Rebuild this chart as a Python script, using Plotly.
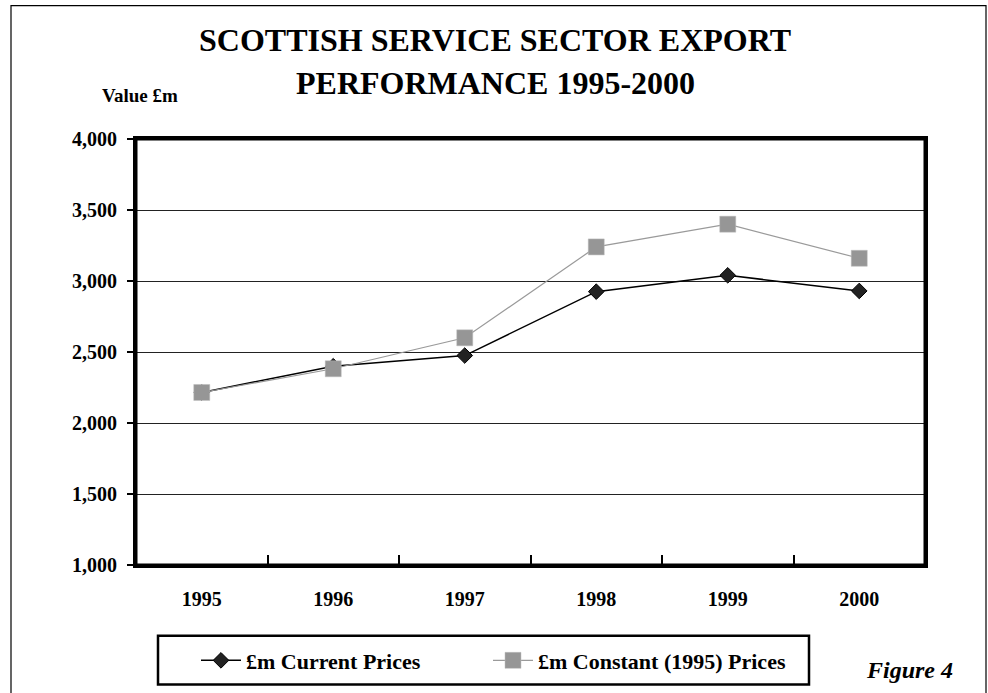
import plotly.graph_objects as go

# Scottish service sector exports, £m
years = ["1995", "1996", "1997", "1998", "1999", "2000"]
current_prices = [2215, 2400, 2475, 2925, 3040, 2930]
constant_prices = [2215, 2382, 2600, 3240, 3400, 3160]
y_ticks = [1000, 1500, 2000, 2500, 3000, 3500, 4000]
title_lines = ["SCOTTISH SERVICE SECTOR EXPORT", "PERFORMANCE 1995-2000"]

W, H = 988, 693
L, R, T, B = 136, 925, 139, 567  # plot area in pixels
PW, PH = R - L, B - T


def px(x):
    return (x - L) / PW


def py(y):
    return (B - y) / PH


FONT = "Liberation Serif, Times New Roman, serif"


def bold(size, **kw):
    return dict(family=FONT, size=size, color="black", weight="bold", **kw)


fig = go.Figure()
fig.add_trace(go.Scatter(
    x=years, y=current_prices, name="£m Current Prices",
    mode="lines+markers", legend="legend",
    line=dict(color="#000000", width=1.5),
    marker=dict(symbol="diamond", size=12, color="#222222",
                line=dict(color="#000000", width=1)),
))
fig.add_trace(go.Scatter(
    x=years, y=constant_prices, name="£m Constant (1995) Prices",
    mode="lines+markers", legend="legend2",
    line=dict(color="#9a9a9a", width=1.2),
    marker=dict(symbol="square", size=16, color="#969696",
                line=dict(color="#bdbdbd", width=0.5)),
))

legend_common = dict(
    orientation="h", xanchor="left", yanchor="middle", y=py(663),
    bgcolor="rgba(0,0,0,0)", borderwidth=0, font=bold(22), itemwidth=40,
)

fig.update_layout(
    width=W, height=H,
    margin=dict(l=L, r=W - R, t=T, b=H - B),
    paper_bgcolor="white", plot_bgcolor="white",
    font=bold(20),
    showlegend=True,
    legend=dict(x=px(196), **legend_common),
    legend2=dict(x=px(488), **legend_common),
)

fig.update_xaxes(
    type="category", range=[-0.5, 5.5],
    showline=True, linecolor="black", linewidth=3, mirror=True,
    ticks="inside", tickson="boundaries", ticklen=10, tickwidth=1.5, tickcolor="black",
    showgrid=False, zeroline=False,
    tickfont=bold(20),
    ticklabelstandoff=14,
)
fig.update_yaxes(
    range=[1000, 4000], tickvals=y_ticks, tickformat=",d",
    showline=True, linecolor="black", linewidth=3, mirror=True,
    ticks="outside", ticklen=6, tickwidth=2, tickcolor="black",
    showgrid=True, gridcolor="#222222", gridwidth=1, zeroline=False,
    tickfont=bold(20),
    ticklabelstandoff=6,
)

# heavy frame round the plot area
fig.add_shape(type="rect", xref="paper", yref="paper",
              x0=0, x1=1, y0=0, y1=1,
              line=dict(color="black", width=3), fillcolor="rgba(0,0,0,0)", layer="above")
# outer frame around the whole figure
fig.add_shape(type="rect", xref="paper", yref="paper",
              x0=px(11), x1=px(986), y0=py(705), y1=py(5),
              line=dict(color="black", width=1.2), fillcolor="rgba(0,0,0,0)", layer="below")
# legend frame
fig.add_shape(type="rect", xref="paper", yref="paper",
              x0=px(158), x1=px(809), y0=py(687), y1=py(638),
              line=dict(color="black", width=2.5), fillcolor="rgba(0,0,0,0)")

# two-line heading
for line, yc in zip(title_lines, [40, 83]):
    fig.add_annotation(text=line, xref="paper", yref="paper",
                       x=px(495), y=py(yc), xanchor="center", yanchor="middle",
                       showarrow=False, font=bold(32))

fig.add_annotation(text="Value £m", xref="paper", yref="paper",
                   x=px(100), y=py(95), xanchor="left", yanchor="middle",
                   showarrow=False, font=bold(19))
fig.add_annotation(text="Figure 4", xref="paper", yref="paper",
                   x=px(955), y=py(672), xanchor="right", yanchor="middle",
                   showarrow=False, font=bold(24, style="italic"))

fig.write_html("out.html")
